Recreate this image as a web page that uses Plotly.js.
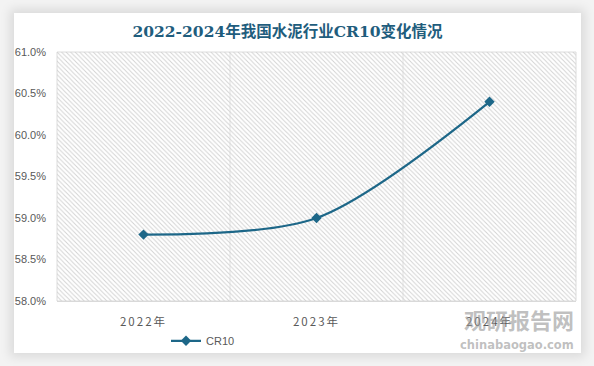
<!DOCTYPE html>
<html>
<head>
<meta charset="utf-8">
<script src="https://cdn.plot.ly/plotly-3.0.1.min.js"></script>
<style>
html,body{margin:0;padding:0;background:#ffffff;}
#wrap{position:relative;width:594px;height:366px;overflow:hidden;background:#f3f3f3;}
#card{position:absolute;left:14px;top:13px;width:567px;height:340px;background:#ffffff;box-shadow:0 0 10px 4px rgba(0,0,0,0.10);}
#chart{position:absolute;left:0;top:0;width:594px;height:366px;}
.xtick text{letter-spacing:2px;}
</style>
</head>
<body>
<div id="wrap"><div id="card"></div><div id="chart"></div></div>
<script>
const categories = ["2022年", "2023年", "2024年"];
const cr10 = [58.8, 59.0, 60.4];
const yTickVals = [58.0, 58.5, 59.0, 59.5, 60.0, 60.5, 61.0];
const titleText = "2022-2024年我国水泥行业CR10变化情况";
const seriesName = "CR10";

const lineColor = "#1d6788";

const traces = [
  {
    type: "bar",
    x: categories,
    y: categories.map(() => yTickVals[yTickVals.length - 1] - yTickVals[0]),
    base: yTickVals[0],
    width: 1,
    marker: {
      color: "rgba(0,0,0,0)",
      line: {width: 0},
      pattern: {shape: "\\", fgcolor: "#d2d2d2", bgcolor: "rgba(0,0,0,0)", size: 3.2, solidity: 0.3}
    },
    hoverinfo: "skip",
    showlegend: false
  },
  {
    type: "scatter",
    mode: "lines+markers",
    name: seriesName,
    x: categories,
    y: cr10,
    line: {color: lineColor, width: 2.25, shape: "spline", smoothing: 0.85},
    marker: {symbol: "diamond", size: 8, color: lineColor},
    showlegend: true
  }
];

const layout = {
  width: 594,
  height: 366,
  paper_bgcolor: "rgba(0,0,0,0)",
  plot_bgcolor: "#ffffff",
  margin: {l: 57, r: 18, t: 52, b: 64},
  bargap: 0,
  title: {
    text: "<b>" + titleText + "</b>",
    font: {family: "DejaVu Serif, Noto Sans CJK SC, serif", size: 15.5, color: "#1f5d7d"},
    x: 0.484, xanchor: "center", xref: "container",
    y: 1 - 32 / 366, yanchor: "middle", yref: "container"
  },
  xaxis: {
    type: "category",
    range: [-0.5, 2.5],
    showgrid: false,
    zeroline: false,
    showline: true,
    linecolor: "#d9d9d9",
    linewidth: 1,
    ticks: "",
    tickfont: {family: "Noto Sans CJK SC, sans-serif", size: 11.5, color: "#595959"},
    ticklabelstandoff: 10,
    fixedrange: true
  },
  yaxis: {
    range: [yTickVals[0], yTickVals[yTickVals.length - 1]],
    tickvals: yTickVals,
    ticktext: yTickVals.map(v => v.toFixed(1) + "%"),
    showgrid: false,
    zeroline: false,
    showline: false,
    ticks: "",
    tickfont: {family: "Liberation Sans, Arial, sans-serif", size: 11, color: "#595959"},
    ticklabelstandoff: 10,
    fixedrange: true
  },
  shapes: [
    {type: "line", xref: "x", yref: "paper", x0: 0.5, x1: 0.5, y0: 0, y1: 1, line: {color: "#e3e3e3", width: 1}, layer: "below"},
    {type: "line", xref: "x", yref: "paper", x0: 1.5, x1: 1.5, y0: 0, y1: 1, line: {color: "#e3e3e3", width: 1}, layer: "below"},
    {type: "rect", xref: "paper", yref: "paper", x0: 0, x1: 1, y0: 0, y1: 1, line: {color: "#dcdcdc", width: 1}, fillcolor: "rgba(0,0,0,0)", layer: "below"}
  ],
  legend: {
    orientation: "h",
    x: (166 - 57) / 519, xanchor: "left",
    y: -0.155, yanchor: "middle",
    font: {family: "Liberation Sans, Arial, sans-serif", size: 11, color: "#595959"},
    bgcolor: "rgba(0,0,0,0)",
    itemwidth: 30
  },
  annotations: [
    {xref: "paper", yref: "paper", x: 1.0, y: -0.072, xanchor: "right", yanchor: "middle",
     text: "<b>观研报告网</b>", showarrow: false,
     font: {family: "Noto Sans CJK SC, sans-serif", size: 22, color: "rgba(150,150,150,0.6)"}},
    {xref: "paper", yref: "paper", x: 1.0, y: -0.178, xanchor: "right", yanchor: "middle",
     text: "<b>chinabaogao.com</b>", showarrow: false,
     font: {family: "DejaVu Sans, sans-serif", size: 11.5, color: "rgba(150,150,150,0.6)"}}
  ],
  showlegend: true
};

Plotly.newPlot("chart", traces, layout, {displayModeBar: false, staticPlot: true});
</script>
</body>
</html>
